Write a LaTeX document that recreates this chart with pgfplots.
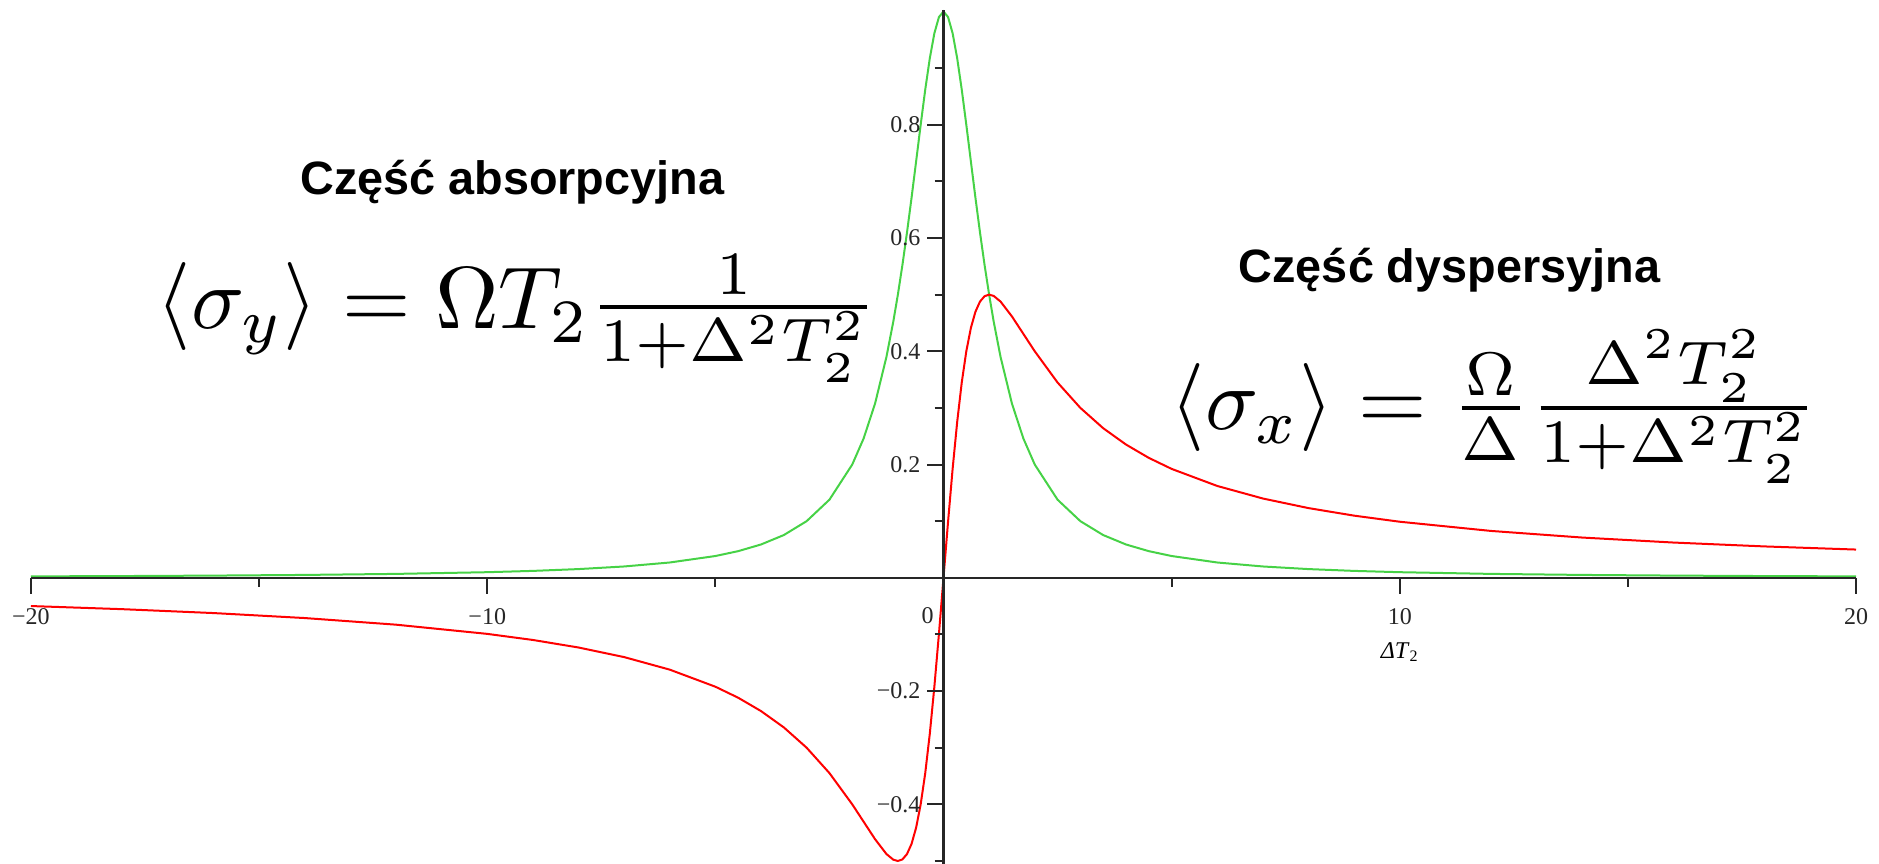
\RequirePackage{fix-cm}
\documentclass[border=0pt]{standalone}
\usepackage{graphicx}
\usepackage{fontspec}
\setmainfont{Liberation Serif}
\newfontfamily\hv{Liberation Sans}
\usepackage{pgfplots}
\pgfplotsset{compat=1.18}
\usepackage{pgfplotstable}

\definecolor{absgreen}{RGB}{70,210,70}
\definecolor{disred}{RGB}{255,0,0}

% Lorentzian response: g = absorptive part, r = dispersive part, x = Delta T_2
\pgfplotstableread{
x g r
-20 0.002494 -0.049875
-18 0.003077 -0.055385
-16 0.003891 -0.062257
-14 0.005076 -0.071066
-12 0.006897 -0.082759
-10 0.009901 -0.099010
-9 0.012195 -0.109756
-8 0.015385 -0.123077
-7 0.020000 -0.140000
-6 0.027027 -0.162162
-5 0.038462 -0.192308
-4.5 0.047059 -0.211765
-4 0.058824 -0.235294
-3.5 0.075472 -0.264151
-3 0.100000 -0.300000
-2.5 0.137931 -0.344828
-2 0.200000 -0.400000
-1.75 0.246154 -0.430769
-1.5 0.307692 -0.461538
-1.25 0.390244 -0.487805
-1.1 0.452489 -0.497738
-1 0.500000 -0.500000
-0.9 0.552486 -0.497238
-0.8 0.609756 -0.487805
-0.7 0.671141 -0.469799
-0.6 0.735294 -0.441176
-0.5 0.800000 -0.400000
-0.4 0.862069 -0.344828
-0.3 0.917431 -0.275229
-0.2 0.961538 -0.192308
-0.1 0.990099 -0.099010
0 1.000000 0.000000
0.1 0.990099 0.099010
0.2 0.961538 0.192308
0.3 0.917431 0.275229
0.4 0.862069 0.344828
0.5 0.800000 0.400000
0.6 0.735294 0.441176
0.7 0.671141 0.469799
0.8 0.609756 0.487805
0.9 0.552486 0.497238
1 0.500000 0.500000
1.1 0.452489 0.497738
1.25 0.390244 0.487805
1.5 0.307692 0.461538
1.75 0.246154 0.430769
2 0.200000 0.400000
2.5 0.137931 0.344828
3 0.100000 0.300000
3.5 0.075472 0.264151
4 0.058824 0.235294
4.5 0.047059 0.211765
5 0.038462 0.192308
6 0.027027 0.162162
7 0.020000 0.140000
8 0.015385 0.123077
9 0.012195 0.109756
10 0.009901 0.099010
12 0.006897 0.082759
14 0.005076 0.071066
16 0.003891 0.062257
18 0.003077 0.055385
20 0.002494 0.049875
}\lorentz

\begin{document}
\begin{tikzpicture}
\begin{axis}[
  scale only axis,
  width=912.5pt, height=427pt,
  xmin=-20, xmax=20, ymin=-0.505, ymax=1.003,
  enlargelimits=false,
  axis lines=middle,
  axis line style={-, black!85, line width=1.1pt},
  axis on top,
  clip=false,
  tick align=outside,
  major tick length=8pt,
  minor tick length=4.5pt,
  tick style={black!85, line width=1pt},
  xtick={-20,-10,10,20},
  xticklabels={−20,−10,10,20},
  minor xtick={-15,-5,5,15},
  ytick={-0.4,-0.2,0.2,0.4,0.6,0.8},
  yticklabels={−0.4,−0.2,0.2,0.4,0.6,0.8},
  minor ytick={-0.5,-0.3,-0.1,0.1,0.3,0.5,0.7,0.9},
  ticklabel style={font=\fontsize{12}{14}\selectfont, text=black!85},
  xticklabel style={yshift=-4pt},
]
\addplot[absgreen, line width=1pt] table[x=x, y=g] {\lorentz};
\addplot[disred, line width=1pt] table[x=x, y=r] {\lorentz};

\node[font=\fontsize{12}{14}\selectfont, text=black!85] at (axis cs:0,0) [xshift=-8pt, yshift=-19pt] {0};
\node[font=\fontsize{12}{14}\selectfont] at (axis cs:10,-0.131) {\textit{ΔT}\textsubscript{2}};

\node[anchor=base, font=\hv\bfseries\fontsize{23.4}{28}\selectfont] at (axis cs:-9.45,0.676) {Część absorpcyjna};
\node[anchor=base, font=\hv\bfseries\fontsize{23.4}{28}\selectfont] at (axis cs:11.09,0.521) {Część dyspersyjna};

% formulas set at 10pt and enlarged, so that sub- and superscripts keep their small-size glyphs
\node[anchor=base west, inner sep=0pt] at (axis cs:-17.25,0.4395)
  {\scalebox{4.4}{\fontsize{10}{12}\selectfont$\langle\sigma_y\rangle = \Omega T_2\frac{1}{1+\Delta^2T_2^2}$}};
\node[anchor=base west, inner sep=0pt] at (axis cs:4.975,0.2612)
  {\scalebox{4.4}{\fontsize{10}{12}\selectfont$\langle\sigma_x\rangle = \frac{\Omega}{\Delta}\frac{\Delta^2T_2^2}{1+\Delta^2T_2^2}$}};

\coordinate (bl) at (axis cs:-20.679,-0.505);
\coordinate (tr) at (axis cs:20.504,1.0203);
\end{axis}
\pgfresetboundingbox
\useasboundingbox (bl) rectangle (tr);
\end{tikzpicture}
\end{document}
